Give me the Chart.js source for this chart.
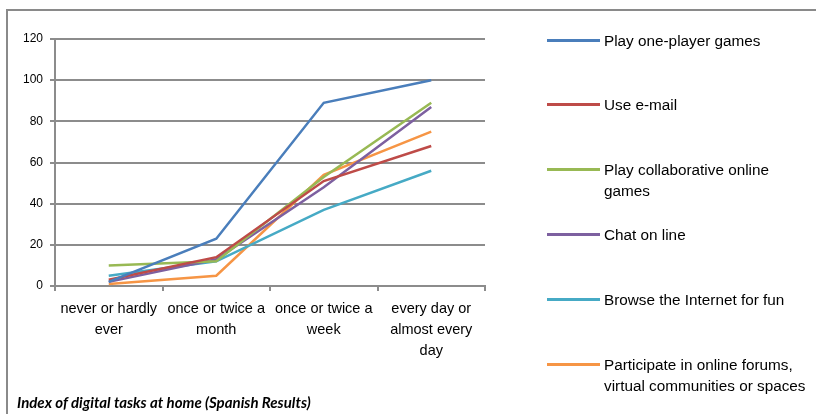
<!DOCTYPE html>
<html>
<head>
<meta charset="utf-8">
<script src="https://cdn.jsdelivr.net/npm/chart.js@4.4.1/dist/chart.umd.min.js"></script>
<style>
  html, body { margin: 0; padding: 0; background: #fff; }
  #wrap { position: relative; width: 816px; height: 414px; overflow: hidden; font-family: "Liberation Sans", Arial, sans-serif; }
  #frame { position: absolute; left: 6px; top: 9px; width: 900px; height: 500px; border: 2px solid #8a8a8a; box-sizing: border-box; }
  #chart { position: absolute; left: 0; top: 0; }
  #legend { position: absolute; left: 0; top: 0; }
  .item { position: absolute; left: 547px; }
  .item .swatch { position: absolute; left: 0; width: 53px; height: 3px; }
  .item .txt { position: absolute; left: 57px; width: 240px; font-size: 15.3px; line-height: 21px; color: #000; white-space: pre-line; }
  #title { position: absolute; left: 17px; top: 393px; font-family: Lato, "Open Sans", sans-serif; font-weight: bold; font-style: italic; font-size: 15px; line-height: 18px; color: #000; }
</style>
</head>
<body>
<div id="wrap">
  <div id="frame"></div>
  <canvas id="chart" width="816" height="414"></canvas>
  <div id="legend"></div>
  <div id="title">Index of digital tasks at home (Spanish Results)</div>
</div>
<script>
// categories (x axis)
const categories = [
    ['never or hardly', 'ever'],
    ['once or twice a', 'month'],
    ['once or twice a', 'week'],
    ['every day or', 'almost every', 'day']
];

// series
const seriesNames = [
    'Play one-player games',
    'Use e-mail',
    'Play collaborative online\ngames',
    'Chat on line',
    'Browse the Internet for fun',
    'Participate in online forums,\nvirtual communities or spaces'
];
const onePlayer     = [2, 23, 89, 100];
const email         = [3, 14, 51, 68];
const collaborative = [10, 12, 53, 89];
const chat          = [2, 13, 48, 87];
const browse        = [5, 12, 37, 56];
const forums        = [1, 5, 54, 75];
const seriesValues = [onePlayer, email, collaborative, chat, browse, forums];
const seriesColors = ['#4a7ebb', '#be4b48', '#98b954', '#7d60a0', '#46aac5', '#f69545'];

// y axis
const yMin = 0, yMax = 120, yStep = 20;

const gridGray = '#8c8c8c';

const datasets = seriesValues.map((vals, i) => ({
    label: seriesNames[i],
    data: vals,
    borderColor: seriesColors[i],
    backgroundColor: seriesColors[i],
    borderWidth: 2.5,
    pointRadius: 0,
    tension: 0,
    fill: false
}));

new Chart(document.getElementById('chart').getContext('2d'), {
    type: 'line',
    data: { labels: categories, datasets: datasets },
    options: {
        responsive: false,
        animation: false,
        devicePixelRatio: 1,
        layout: { padding: { left: 0, top: 39, right: 331, bottom: 0 } },
        plugins: { legend: { display: false }, tooltip: { enabled: false } },
        scales: {
            x: {
                offset: true,
                grid: { offset: true, drawOnChartArea: false, drawTicks: true, tickLength: 5, color: gridGray, lineWidth: 2 },
                border: { color: gridGray, width: 2 },
                ticks: {
                    autoSkip: false, maxRotation: 0, minRotation: 0, padding: 7,
                    color: '#000',
                    font: { family: '"Liberation Sans", Arial, sans-serif', size: 14.5, lineHeight: 1.45 }
                },
                afterFit: s => { s.height = 128; }
            },
            y: {
                min: yMin, max: yMax,
                grid: { color: gridGray, lineWidth: 2, tickLength: 5 },
                border: { color: gridGray, width: 2 },
                ticks: {
                    stepSize: yStep, padding: 7, color: '#000',
                    font: { family: '"Liberation Sans", Arial, sans-serif', size: 12 }
                },
                afterFit: s => { s.width = 55; }
            }
        }
    }
});

// legend in html, from the same arrays
const legend = document.getElementById('legend');
const legendTops = [40, 104, 169, 234, 299, 364];
seriesNames.forEach((name, i) => {
    const item = document.createElement('div');
    item.className = 'item';
    item.style.top = legendTops[i] + 'px';
    item.innerHTML = `<div class="swatch" style="background:${seriesColors[i]};top:-1.5px"></div>
        <div class="txt" style="top:-10.5px"></div>`;
    item.querySelector('.txt').textContent = name;
    legend.appendChild(item);
});
</script>
</body>
</html>
